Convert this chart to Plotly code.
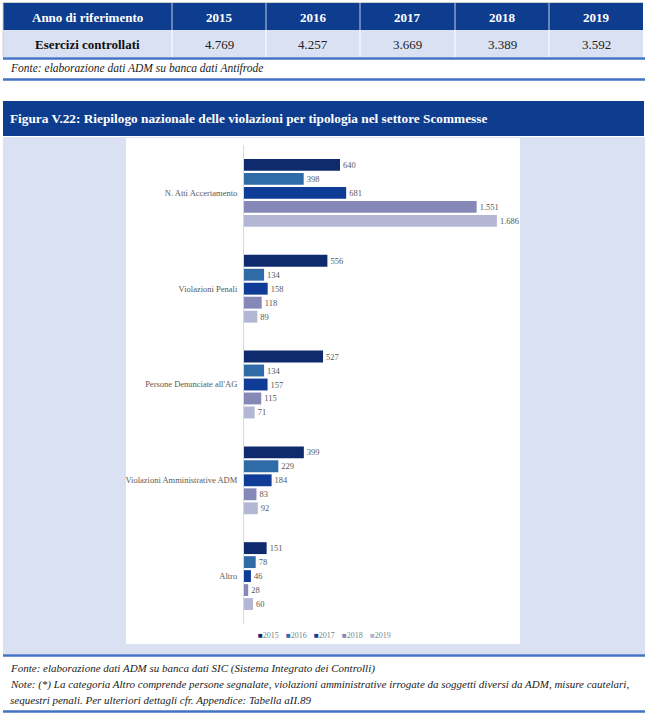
import plotly.graph_objects as go

# ---------------- data ----------------
table_years = ["2015", "2016", "2017", "2018", "2019"]
esercizi_controllati = [4769, 4257, 3669, 3389, 3592]

categories = ["N. Atti Accertamento", "Violazioni Penali", "Persone Denunciate all'AG",
              "Violazioni Amministrative ADM", "Altro"]
years = ["2015", "2016", "2017", "2018", "2019"]
v2015 = [640, 556, 527, 399, 151]
v2016 = [398, 134, 134, 229, 78]
v2017 = [681, 158, 157, 184, 46]
v2018 = [1551, 118, 115, 83, 28]
v2019 = [1686, 89, 71, 92, 60]
series = [v2015, v2016, v2017, v2018, v2019]
colors = ["#0f2b6d", "#2f6ba7", "#0f3c96", "#8689b8", "#b4b7d4"]

W, H = 660, 717
def X(px): return px / W
def Y(py): return 1 - py / H

DARK = "#0e3d8f"
LIGHT = "#d9e1f2"
LINE = "#4472c4"
SERIF = "Liberation Serif"

fig = go.Figure()
for name, vals, col in zip(years, series, colors):
    fig.add_trace(go.Bar(
        y=categories, x=vals, name=name, orientation="h",
        marker=dict(color=col, line=dict(width=0)),
        texttemplate="%{x:,.0f}", textposition="outside",
        textfont=dict(family=SERIF, size=8.5, color="#595959"),
        outsidetextfont=dict(family=SERIF, size=8.5, color="#595959"),
        cliponaxis=False, showlegend=False,
    ))

shapes = []
ann = []

def rect(x0, y0, x1, y1, fill, layer="below"):
    shapes.append(dict(type="rect", xref="paper", yref="paper",
                       x0=X(x0), x1=X(x1), y0=Y(y1), y1=Y(y0),
                       fillcolor=fill, line=dict(width=0), layer=layer))

def hline(x0, x1, y, color, width):
    shapes.append(dict(type="line", xref="paper", yref="paper",
                       x0=X(x0), x1=X(x1), y0=Y(y), y1=Y(y),
                       line=dict(color=color, width=width), layer="below"))

def vline(x, y0, y1, color, width):
    shapes.append(dict(type="line", xref="paper", yref="paper",
                       x0=X(x), x1=X(x), y0=Y(y0), y1=Y(y1),
                       line=dict(color=color, width=width), layer="below"))

def text(x, y, s, size=13, color="#111", xanchor="center", bold=False, italic=False):
    if bold:
        s = "<b>" + s + "</b>"
    if italic:
        s = "<i>" + s + "</i>"
    ann.append(dict(xref="paper", yref="paper", x=X(x), y=Y(y), text=s,
                    showarrow=False, xanchor=xanchor, yanchor="middle",
                    font=dict(family=SERIF, size=size, color=color)))

# ---------------- top table ----------------
col_edges = [3, 172, 266, 360, 455, 549, 643]
rect(3, 3, 643, 30, DARK)
rect(3, 30, 643, 57, LIGHT)
hline(3, 643, 2.5, "#d0d0d0", 1)
vline(3, 2.5, 57, "#d0d0d0", 1)
for e in col_edges[1:-1]:
    vline(e, 3, 30, "#c5cde0", 1)
    vline(e, 30, 57, "#ffffff", 1)
text((col_edges[0] + col_edges[1]) / 2, 17, "Anno di riferimento", 13, "white", bold=True)
text((col_edges[0] + col_edges[1]) / 2, 44, "Esercizi controllati", 13, "#111", bold=True)
for i, (yr, v) in enumerate(zip(table_years, esercizi_controllati)):
    cx = (col_edges[i + 1] + col_edges[i + 2]) / 2
    text(cx, 17, yr, 13, "white", bold=True)
    text(cx, 44, f"{v:,}".replace(",", "."), 13, "#222")
hline(3, 645, 58.5, LINE, 2.5)
text(8, 68.5, "Fonte: elaborazione dati ADM su banca dati Antifrode", 11.5, "#222",
     xanchor="left", italic=True)
hline(3, 645, 79.5, LINE, 2.5)

# ---------------- figure header & panel ----------------
rect(3, 101, 644, 136, DARK)
text(8, 119, "Figura V.22: Riepilogo nazionale delle violazioni per tipologia nel settore Scommesse",
     13.3, "white", xanchor="left", bold=True)
rect(3, 137, 645, 654, LIGHT)
rect(126, 138, 520, 644, "#ffffff")
hline(3, 645, 655.5, LINE, 2.5)
text(8, 668, "Fonte: elaborazione dati ADM su banca dati SIC (Sistema Integrato dei Controlli)",
     11, "#222", xanchor="left", italic=True)
text(8, 684, "Note: (*) La categoria Altro comprende persone segnalate, violazioni amministrative "
     "irrogate da soggetti diversi da ADM, misure cautelari,", 11, "#222", xanchor="left", italic=True)
text(8, 700, "sequestri penali. Per ulteriori dettagli cfr. Appendice: Tabella aII.89",
     11, "#222", xanchor="left", italic=True)
hline(3, 645, 711.5, LINE, 2.5)

# ---------------- manual legend ----------------
leg_x = [256, 284, 312, 340, 368]
for lx, yr, col in zip(leg_x, years, colors):
    ann.append(dict(xref="paper", yref="paper", x=X(lx), y=Y(635),
                    text=f'<span style="color:{col}">■</span>{yr}',
                    showarrow=False, xanchor="left", yanchor="middle",
                    font=dict(family=SERIF, size=8, color="#7f7f7f")))

fig.update_layout(
    width=W, height=H,
    margin=dict(l=0, r=0, t=0, b=0),
    paper_bgcolor="white", plot_bgcolor="rgba(0,0,0,0)",
    barmode="group", bargap=0.27, bargroupgap=0.15,
    separators=",.",
    shapes=shapes, annotations=ann,
    showlegend=False,
    hovermode=False,
    xaxis=dict(domain=[X(244), X(514)], range=[0, 1800], visible=False, fixedrange=True),
    yaxis=dict(domain=[Y(624), Y(145)], autorange="reversed", type="category",
               showline=True, linecolor="#d9d9d9", linewidth=1, showgrid=False,
               ticks="", ticklabelstandoff=4, fixedrange=True,
               tickfont=dict(family=SERIF, size=8.5, color="#595959")),
)

fig.write_html("out.html", config={"displayModeBar": False},
               post_script="document.body.style.margin='0';")
